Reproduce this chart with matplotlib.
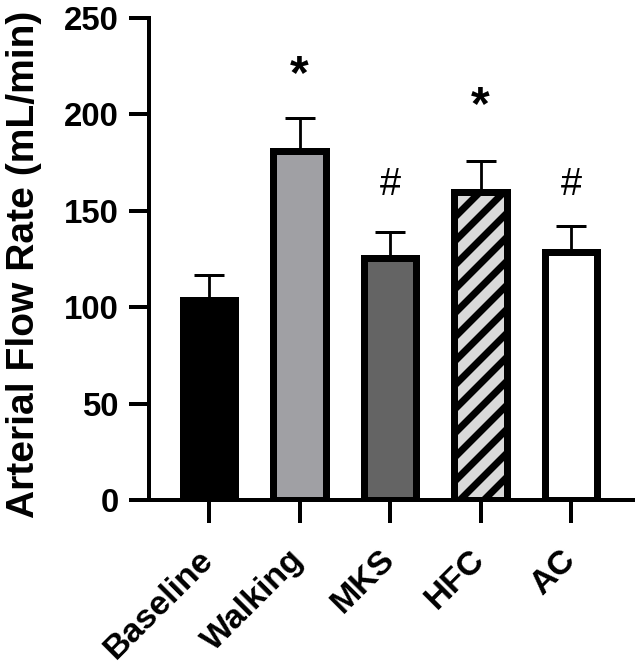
import matplotlib
matplotlib.use("Agg")
import matplotlib.pyplot as plt

# data
groups = ["Baseline", "Walking", "MKS", "HFC", "AC"]
flow_mean = [103.5, 180.8, 125.3, 160.0, 128.4]
flow_sem = [13.2, 17.3, 13.7, 15.8, 13.7]
marks = ["", "*", "#", "*", "#"]
mark_y = [None, 220.0, 163.4, 204.0, 163.4]

fills = ["#000000", "#a0a0a4", "#646464", "#d9d9d9", "#ffffff"]
hatches = [None, None, None, "//", None]

# dpi 144 so the hatch cell gives the wider stripe spacing
DPI = 144
plt.rcParams["font.family"] = ["Liberation Sans", "DejaVu Sans"]
plt.rcParams["font.weight"] = "bold"
plt.rcParams["hatch.linewidth"] = 3.5
plt.rcParams["hatch.color"] = "black"

fig = plt.figure(figsize=(637 / DPI, 664 / DPI), dpi=DPI)
ax = fig.add_axes([149 / 637, 164 / 664, 484 / 637, 482 / 664])

x = list(range(len(groups)))

ax.errorbar(x, flow_mean, yerr=[[0] * len(x), flow_sem], fmt="none",
            ecolor="black", elinewidth=1.4, capsize=7.3, capthick=1.5, zorder=1)

for i in x:
    ax.bar(i, flow_mean[i], width=0.585, color=fills[i], edgecolor="black",
           linewidth=3.5, hatch=hatches[i], zorder=2)
    if marks[i] == "*":
        ax.text(i, mark_y[i], "*", ha="center", va="center",
                fontsize=24, fontweight="bold")
    elif marks[i] == "#":
        ax.text(i, mark_y[i], "#", ha="center", va="center",
                fontsize=19, fontweight="normal")

ax.set_xlim(-0.663, 4.685)
ax.set_ylim(0, 250)
ax.set_yticks([0, 50, 100, 150, 200, 250])
ax.set_xticks(x)
ax.set_xticklabels(groups, rotation=45, ha="right", va="center",
                   rotation_mode="anchor", fontsize=17, fontweight="bold")

for lbl in ax.get_yticklabels():
    lbl.set_fontsize(16.5)
    lbl.set_fontweight("bold")

ax.spines["top"].set_visible(False)
ax.spines["right"].set_visible(False)
ax.spines["left"].set_linewidth(2)
ax.spines["bottom"].set_linewidth(2)
ax.tick_params(axis="x", length=11.5, width=2, pad=16)
ax.tick_params(axis="y", length=10, width=2, pad=5)

ax.set_ylabel("Arterial Flow Rate (mL/min)", fontsize=19.5, fontweight="bold")
ax.yaxis.set_label_coords(-0.222, 0.49)

fig.savefig("out.png", dpi=DPI)
